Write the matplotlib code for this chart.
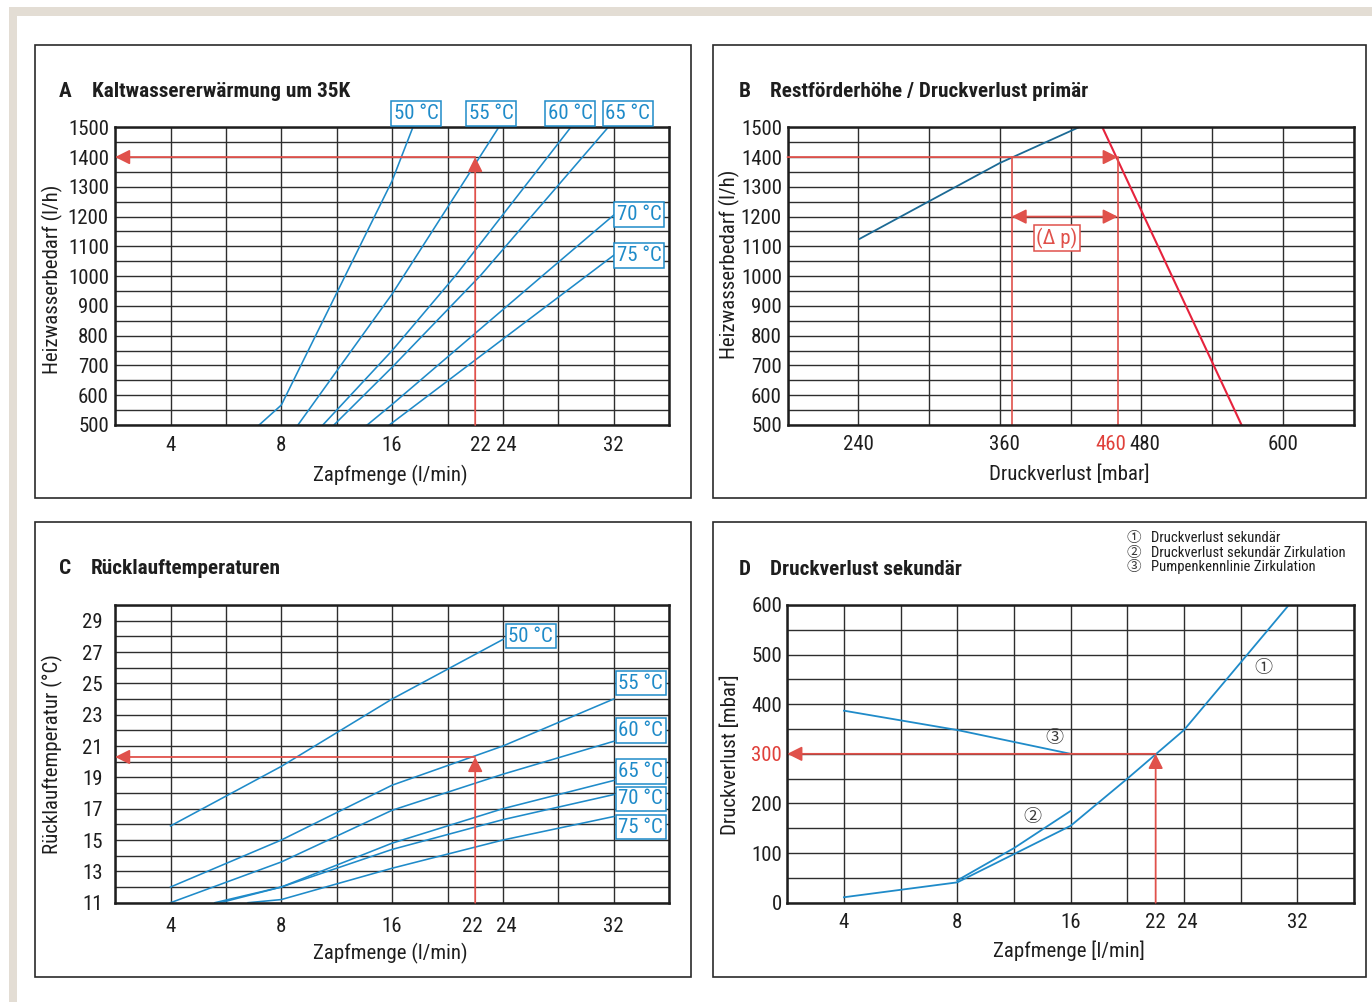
import numpy as np
import matplotlib
matplotlib.use("Agg")
import matplotlib.pyplot as plt
from matplotlib import font_manager as fm
from matplotlib.patches import Rectangle
from matplotlib.transforms import ScaledTranslation

# ---------------- data ----------------
# non-uniform "Zapfmenge" axis (column boundaries of the printed grid)
zapf_grid_vals = [2, 4, 6, 8, 12, 16, 20, 24, 28, 32, 36]
zapf_ticks = [4, 8, 16, 22, 24, 32]
zapf_ticklabels = ["4", "8", "16", "22", "24", "32"]

# Panel A - Kaltwassererwärmung um 35K (Zapfmenge l/min -> Heizwasserbedarf l/h)
a_50_x = [7.2, 8, 16, 17.5];        a_50_y = [500, 567, 1320, 1500]
a_55_x = [9.2, 16, 23.7];           a_55_y = [500, 940, 1500]
a_60_x = [11.0, 16, 20.6, 28.9];    a_60_y = [500, 750, 1003, 1500]
a_65_x = [11.8, 16, 22.4, 31.6];    a_65_y = [500, 694, 1003, 1500]
a_70_x = [14.2, 16, 26.9, 32];      a_70_y = [500, 569, 1003, 1205]
a_75_x = [15.8, 32];                a_75_y = [500, 1070]
a_labels = ["50 °C", "55 °C", "60 °C", "65 °C", "70 °C", "75 °C"]
a_sel_x = 22
a_sel_y = 1400
a_yticks = [500, 600, 700, 800, 900, 1000, 1100, 1200, 1300, 1400, 1500]

# Panel B - Restförderhöhe / Druckverlust primär
b_grid_x = [180, 240, 300, 360, 420, 480, 540, 600, 660]
b_xticks = [240, 360, 460, 480, 600]
b_blue_x = [241, 360, 427];  b_blue_y = [1125, 1380, 1500]
b_red_x = [447, 565];        b_red_y = [1500, 500]
b_sel_y = 1400
b_dp_x = [370, 460]
b_dp_y = 1200

# Panel C - Rücklauftemperaturen
c_50_x = [4, 8, 16, 24];          c_50_y = [15.9, 19.7, 24.0, 27.8]
c_55_x = [4, 8, 16, 24, 32];      c_55_y = [12.0, 15.0, 18.5, 21.0, 24.0]
c_60_x = [4, 8, 16, 24, 32];      c_60_y = [11.0, 13.6, 16.9, 19.2, 21.3]
c_65_x = [5.6, 8, 16, 24, 32];    c_65_y = [11.0, 12.0, 14.8, 17.0, 18.8]
c_70_x = [5.8, 8, 16, 24, 32];    c_70_y = [11.0, 12.0, 14.4, 16.3, 17.9]
c_75_x = [6.8, 8, 16, 24, 32];    c_75_y = [11.0, 11.2, 13.2, 15.0, 16.5]
c_sel_x = 22
c_sel_y = 20.3
c_yticks = [11, 13, 15, 17, 19, 21, 23, 25, 27, 29]

# Panel D - Druckverlust sekundär
d_1_x = [4, 8, 12, 16, 20, 24, 27, 31.4]; d_1_y = [11, 41, 98, 155, 250, 348, 450, 600]
d_2_x = [8, 12, 16];                       d_2_y = [45, 110, 185]
d_3_x = [4, 8, 16];                        d_3_y = [387, 348, 300]
d_sel_x = 22
d_sel_y = 300
d_yticks = [0, 100, 200, 300, 400, 500, 600]
d_legend = ["Druckverlust sekundär", "Druckverlust sekundär Zirkulation", "Pumpenkennlinie Zirkulation"]
d_marks = ["①", "②", "③"]

# ---------------- fonts ----------------
names = {f.name for f in fm.fontManager.ttflist}
BASE = None
for n in ["Liberation Sans Narrow", "Roboto Condensed", "DejaVu Sans Condensed", "Open Sans Condensed"]:
    if n in names:
        BASE = n
        break
STRETCH = "normal"
FS = 1.0
if BASE is None:
    if any(f.name == "DejaVu Sans" and str(f.stretch) == "condensed" for f in fm.fontManager.ttflist):
        BASE = "DejaVu Sans"; STRETCH = "condensed"; FS = 0.9
    else:
        BASE = "Liberation Sans"; FS = 0.85
plt.rcParams["font.family"] = [BASE, "Noto Sans CJK JP", "DejaVu Sans"]
plt.rcParams["font.stretch"] = STRETCH

BLUE = "#1f8bc9"
BLUE_DARK = "#1c6a95"
RED = "#e0514b"
RED_LINE = "#e6233d"
RED_TXT = "#e0403a"
GRID = "#2e2e2e"
INK = "#1e1e1e"

W, H = 1372, 1002
fig = plt.figure(figsize=(W / 100, H / 100), dpi=100)


def rect(l, r, t, b):
    return [l / W, 1 - b / H, (r - l) / W, (b - t) / H]


# background bands + panel frames
fig.patches.append(Rectangle((8.7 / W, 1 - 15.7 / H), 1 - 8.7 / W, 9 / H, transform=fig.transFigure,
                             fc="#e3ddd4", ec="none", zorder=0))
fig.patches.append(Rectangle((8.7 / W, 0), 8 / W, 1 - 6.7 / H, transform=fig.transFigure,
                             fc="#e3ddd4", ec="none", zorder=0))
for (l, r, t, b) in [(35, 691, 44.7, 498), (712.7, 1366.4, 44.7, 498),
                     (35, 691, 522.3, 976.7), (712.7, 1366.4, 522.3, 976.7)]:
    fig.patches.append(Rectangle((l / W, 1 - b / H), (r - l) / W, (b - t) / H, transform=fig.transFigure,
                                 fc="none", ec="#2a2a2a", lw=1.2, zorder=1))

gv = np.array(zapf_grid_vals, float)
gc = np.arange(len(gv), dtype=float)


def fwd(v):
    return np.interp(v, gv, gc)


def inv(c):
    return np.interp(c, gc, gv)


def style(ax, xpad, ypad):
    for s in ax.spines.values():
        s.set_linewidth(1.8)
        s.set_color(INK)
        s.set_zorder(4)
    ax.xaxis.remove_overlapping_locs = False
    ax.yaxis.remove_overlapping_locs = False
    ax.tick_params(which="both", length=0, labelsize=15 * FS, colors=INK)
    ax.tick_params(axis="x", pad=xpad)
    ax.tick_params(axis="y", pad=ypad)
    ax.grid(False, which="major")
    ax.grid(True, which="minor", color=GRID, lw=1.0)
    ax.set_axisbelow(True)


def shift_label(ax, axis, idx, dx):
    labs = ax.get_xticklabels() if axis == "x" else ax.get_yticklabels()
    lab = labs[idx]
    lab.set_transform(lab.get_transform() + ScaledTranslation(dx / 100, 0, fig.dpi_scale_trans))


def tag(ax, x, y, s, color):
    ax.text(x, y, s, color=color, fontsize=15 * FS, ha="center", va="center", zorder=6, clip_on=False,
            bbox=dict(boxstyle="square,pad=0.13", fc="white", ec=color, lw=1.1))


def arrow(ax, start, end, color=RED, style_="-|>"):
    ax.annotate("", xy=end, xytext=start,
                arrowprops=dict(arrowstyle=style_ + ",head_length=0.4,head_width=0.2", mutation_scale=22,
                                color=color, lw=1.3, shrinkA=0, shrinkB=0),
                annotation_clip=False, zorder=5)


def zapf_axis(ax):
    ax.set_xscale("function", functions=(fwd, inv))
    ax.set_xlim(zapf_grid_vals[0], zapf_grid_vals[-1])
    ax.set_xticks(zapf_ticks)
    ax.set_xticklabels(zapf_ticklabels)
    ax.set_xticks(zapf_grid_vals, minor=True)
    ax.get_xticklabels()[zapf_ticks.index(22)].set_color(RED_TXT)


TFS = 15.3 * FS


def title(px, py, text):
    fig.text(px / W, 1 - py / H, text, fontsize=TFS, fontweight="bold", color=INK, va="baseline")


# ---------------- Panel A ----------------
axA = fig.add_axes(rect(115.1, 669.1, 127.3, 425))
zapf_axis(axA)
axA.set_ylim(500, 1500)
axA.set_yticks(a_yticks)
axA.set_yticks(np.arange(500, 1501, 50), minor=True)
style(axA, 8, 4.4)
for xs, ys in [(a_50_x, a_50_y), (a_55_x, a_55_y), (a_60_x, a_60_y),
               (a_65_x, a_65_y), (a_70_x, a_70_y), (a_75_x, a_75_y)]:
    axA.plot(xs, ys, color=BLUE, lw=1.15, zorder=3)
arrow(axA, (a_sel_x, a_sel_y), (zapf_grid_vals[0], a_sel_y))
arrow(axA, (a_sel_x, a_yticks[0]), (a_sel_x, a_sel_y))
for (x, y), s in zip([(17.75, 1547), (23.16, 1547), (28.87, 1547), (33.02, 1547), (33.84, 1207), (33.84, 1070)],
                     a_labels):
    tag(axA, x, y, s, BLUE)
axA.set_xlabel("Zapfmenge (l/min)", fontsize=15 * FS, color=INK)
axA.set_ylabel("Heizwasserbedarf (l/h)", fontsize=15 * FS, color=INK)
axA.xaxis.set_label_coords(0.497, -0.171)
axA.xaxis.label.set_va("center")
axA.yaxis.set_label_coords(-0.113, 0.49)
axA.yaxis.label.set_va("center")
shift_label(axA, "x", 3, 5)
shift_label(axA, "x", 4, 3)
title(58.3, 96.7, "A")
title(91.7, 96.7, "Kaltwassererwärmung um 35K")

# ---------------- Panel B ----------------
axB = fig.add_axes(rect(787.5, 1353.6, 127.3, 425))
axB.set_xlim(b_grid_x[0], b_grid_x[-1])
axB.set_xticks(b_xticks)
axB.set_xticks(b_grid_x, minor=True)
axB.set_ylim(500, 1500)
axB.set_yticks(a_yticks)
axB.set_yticks(np.arange(500, 1501, 50), minor=True)
style(axB, 7.5, 4)
axB.get_xticklabels()[b_xticks.index(460)].set_color(RED_TXT)
shift_label(axB, "x", 1, 5)
shift_label(axB, "x", 2, -7)
shift_label(axB, "x", 3, 3)
axB.plot(b_blue_x, b_blue_y, color=BLUE_DARK, lw=1.3, zorder=3)
axB.plot(b_red_x, b_red_y, color=RED_LINE, lw=1.5, zorder=3)
arrow(axB, (b_grid_x[0], b_sel_y), (b_dp_x[1], b_sel_y))
for xv in b_dp_x:
    axB.plot([xv, xv], [500, b_sel_y], color=RED, lw=1.2, zorder=3)
arrow(axB, (b_dp_x[0], b_dp_y), (b_dp_x[1], b_dp_y), style_="<|-|>")
axB.text(408.4, 1128, "(Δ p)", color=RED, fontsize=15 * FS, ha="center", va="center", zorder=6,
         bbox=dict(boxstyle="square,pad=0.1", fc="white", ec=RED, lw=1.1))
axB.set_xlabel("Druckverlust [mbar]", fontsize=15 * FS, color=INK)
axB.set_ylabel("Heizwasserbedarf (l/h)", fontsize=15 * FS, color=INK)
axB.xaxis.set_label_coords(0.497, -0.165)
axB.xaxis.label.set_va("center")
axB.yaxis.set_label_coords(-0.1025, 0.54)
axB.yaxis.label.set_va("center")
title(738.6, 96.7, "B")
title(770.5, 96.7, "Restförderhöhe / Druckverlust primär")

# ---------------- Panel C ----------------
axC = fig.add_axes(rect(115.1, 669.1, 605, 902.7))
zapf_axis(axC)
axC.set_ylim(11, 30)
axC.set_yticks(c_yticks)
axC.set_yticks(np.arange(11, 31, 1), minor=True)
style(axC, 10, 9)
for xs, ys in [(c_50_x, c_50_y), (c_55_x, c_55_y), (c_60_x, c_60_y),
               (c_65_x, c_65_y), (c_70_x, c_70_y), (c_75_x, c_75_y)]:
    axC.plot(xs, ys, color=BLUE, lw=1.15, zorder=3)
arrow(axC, (c_sel_x, c_sel_y), (zapf_grid_vals[0], c_sel_y))
arrow(axC, (c_sel_x, c_yticks[0]), (c_sel_x, c_sel_y))
for (x, y), s in zip([(26.0, 28.02), (33.96, 25.02), (33.96, 21.98), (33.96, 19.37), (33.96, 17.62), (33.96, 15.83)],
                     a_labels):
    tag(axC, x, y, s, BLUE)
axC.set_xlabel("Zapfmenge (l/min)", fontsize=15 * FS, color=INK)
axC.set_ylabel("Rücklauftemperatur (°C)", fontsize=15 * FS, color=INK)
axC.xaxis.set_label_coords(0.497, -0.169)
axC.xaxis.label.set_va("center")
axC.yaxis.set_label_coords(-0.1139, 0.5)
axC.yaxis.label.set_va("center")
shift_label(axC, "x", 3, -3)
shift_label(axC, "x", 4, 3)
title(58.7, 574.3, "C")
title(90.3, 574.3, "Rücklauftemperaturen")

# ---------------- Panel D ----------------
axD = fig.add_axes(rect(787.3, 1354, 605, 902.7))
zapf_axis(axD)
axD.set_ylim(0, 600)
axD.set_yticks(d_yticks)
axD.set_yticks(np.arange(0, 601, 50), minor=True)
style(axD, 7.6, 3.8)
axD.get_yticklabels()[d_yticks.index(300)].set_color(RED_TXT)
shift_label(axD, "x", 4, 3.5)
axD.plot(d_1_x, d_1_y, color=BLUE, lw=1.3, zorder=3)
axD.plot(d_2_x, d_2_y, color=BLUE, lw=1.3, zorder=3)
axD.plot(d_3_x, d_3_y, color=BLUE, lw=1.3, zorder=3)
arrow(axD, (d_sel_x, d_sel_y), (zapf_grid_vals[0], d_sel_y))
arrow(axD, (d_sel_x, d_yticks[0]), (d_sel_x, d_sel_y))
for (x, y), s in zip([(29.6, 473), (13.3, 172), (14.83, 331)], d_marks):
    axD.text(x, y, s, fontsize=13, color="#3a3a3a", ha="center", va="center", zorder=6,
             family=["Noto Sans CJK JP", "DejaVu Sans"])
axD.set_xlabel("Zapfmenge [l/min]", fontsize=15 * FS, color=INK)
axD.set_ylabel("Druckverlust [mbar]", fontsize=15 * FS, color=INK)
axD.xaxis.set_label_coords(0.497, -0.162)
axD.xaxis.label.set_va("center")
axD.yaxis.set_label_coords(-0.101, 0.496)
axD.yaxis.label.set_va("center")
title(738.6, 575, "D")
title(770.5, 575, "Druckverlust sekundär")
for i, (m, s) in enumerate(zip(d_marks, d_legend)):
    py = [538.3, 552.7, 566.7][i]
    fig.text(1134 / W, 1 - py / H, m, fontsize=10.5, color="#3a3a3a", ha="center", va="center",
             family=["Noto Sans CJK JP", "DejaVu Sans"])
    fig.text(1150.7 / W, 1 - py / H, s, fontsize=10.5 * FS, color=INK, ha="left", va="center")

fig.savefig("out.png", dpi=100, facecolor="white")
